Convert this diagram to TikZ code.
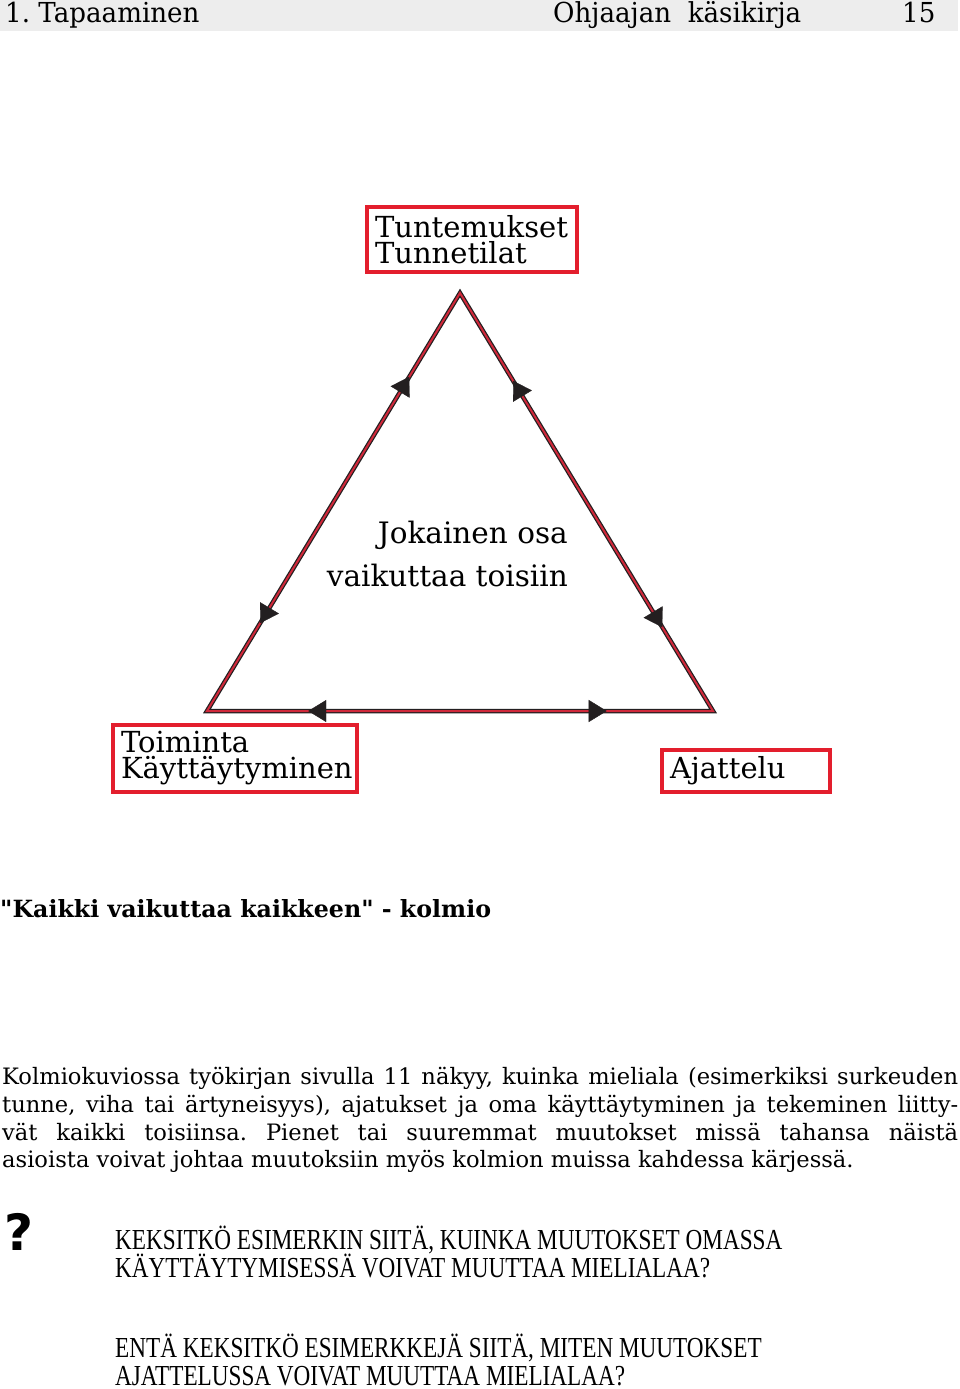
\documentclass[tikz,border=0pt]{standalone}
\usepackage{fontspec}
\setmainfont{DejaVu Serif}
\newfontfamily\hdrfont[FakeStretch=0.95]{DejaVu Serif}
\newfontfamily\timesfont[FakeStretch=0.8]{Liberation Serif}
\newfontfamily\qmarkfont{DejaVu Sans}
\usetikzlibrary{decorations.markings,arrows.meta}
\definecolor{boxred}{HTML}{E31E2D}
\definecolor{tred}{HTML}{D0283A}
\definecolor{tdark}{HTML}{231F20}
\definecolor{band}{HTML}{EDEDED}
\frenchspacing
\tikzset{
  labelbox/.style={draw=boxred, line width=4pt, align=left, inner xsep=8pt, inner ysep=0pt,
    font=\fontsize{29}{26}\selectfont},
  sideouter/.style={draw=tdark, line width=4.5pt, line join=miter},
  sidecore/.style={draw=tred, line width=2pt, line join=miter},
  headarrows/.style={decorate, decoration={markings,
      mark=at position 0.21 with {\arrowreversed[tdark]{Triangle[length=18pt,width=22pt]}},
      mark=at position 0.80 with {\arrow[tdark]{Triangle[length=18pt,width=22pt]}}}},
  hdr/.style={anchor=base west, inner sep=0pt, font=\hdrfont\fontsize{27.5}{27.5}\selectfont},
  bodyline/.style={anchor=base west, inner sep=0pt, font=\fontsize{22.6}{28}\selectfont},
  qline/.style={anchor=base west, inner sep=0pt, font=\timesfont\fontsize{29}{28}\selectfont},
}
\begin{document}
\begin{tikzpicture}[x=1pt,y=-1pt]
\useasboundingbox (0,0) rectangle (960,1389);
% header band
\fill[band] (0,0) rectangle (958,31);
\node[hdr] (h1) at (5,23) {1. Tapaaminen};
\node[hdr] (h2) at (553,23) {Ohjaajan\ \ käsikirja};
\node[hdr] (h3) at (902,23) {15};
% boxes
\node[labelbox, minimum width=210pt, minimum height=65pt, text width=194pt] (tun) at (472,239.5)
  {Tuntemukset\\Tunnetilat};
\node[labelbox, minimum width=244pt, minimum height=67pt, text width=228pt] (toi) at (235,758.5)
  {Toiminta\\Käyttäytyminen};
\node[labelbox, minimum width=168pt, minimum height=42pt, text width=152pt] (aja) at (746,771)
  {Ajattelu};
% triangle
\coordinate (A) at (460,293);
\coordinate (L) at (207,711);
\coordinate (R) at (713,711);
\draw[sideouter] (L) -- (A) -- (R) -- cycle;
\draw[sidecore] (L) -- (A) -- (R) -- cycle;
\path[headarrows] (L) -- (A);
\path[headarrows] (A) -- (R);
\path[headarrows] (R) -- (L);
% centre text
\node[anchor=north east, inner sep=0pt, align=right, font=\fontsize{29.5}{43}\selectfont] (jok) at (568,521)
  {Jokainen osa\\vaikuttaa toisiin};
% title
\node[anchor=base west, inner sep=0pt, font=\bfseries\fontsize{23.7}{28}\selectfont\addfontfeatures{Ligatures=TeXOff}] (title) at (0,917)
  {"Kaikki vaikuttaa kaikkeen" - kolmio};
% body
\node[bodyline] (b1) at (2,1084) {\makebox[956pt][s]{Kolmiokuviossa työkirjan sivulla 11 näkyy, kuinka mieliala (esimerkiksi surkeuden}};
\node[bodyline] (b2) at (2,1112) {\makebox[956pt][s]{tunne, viha tai ärtyneisyys), ajatukset ja oma käyttäytyminen ja tekeminen liitty-}};
\node[bodyline] (b3) at (2,1140) {\makebox[956pt][s]{vät kaikki toisiinsa. Pienet tai suuremmat muutokset missä tahansa näistä}};
\node[bodyline] (b4) at (2,1167) {asioista voivat johtaa muutoksiin myös kolmion muissa kahdessa kärjessä.};
% questions
\node[anchor=base west, inner sep=0pt, font=\qmarkfont\bfseries\fontsize{50}{50}\selectfont] (qm) at (4,1250) {?};
\node[qline] (q1) at (115,1249) {KEKSITKÖ ESIMERKIN SIITÄ, KUINKA MUUTOKSET OMASSA};
\node[qline] (q2) at (115,1277) {KÄYTTÄYTYMISESSÄ VOIVAT MUUTTAA MIELIALAA?};
\node[qline] (q3) at (115,1357) {ENTÄ KEKSITKÖ ESIMERKKEJÄ SIITÄ, MITEN MUUTOKSET};
\node[qline] (q4) at (115,1385) {AJATTELUSSA VOIVAT MUUTTAA MIELIALAA?};
\end{tikzpicture}
\end{document}
